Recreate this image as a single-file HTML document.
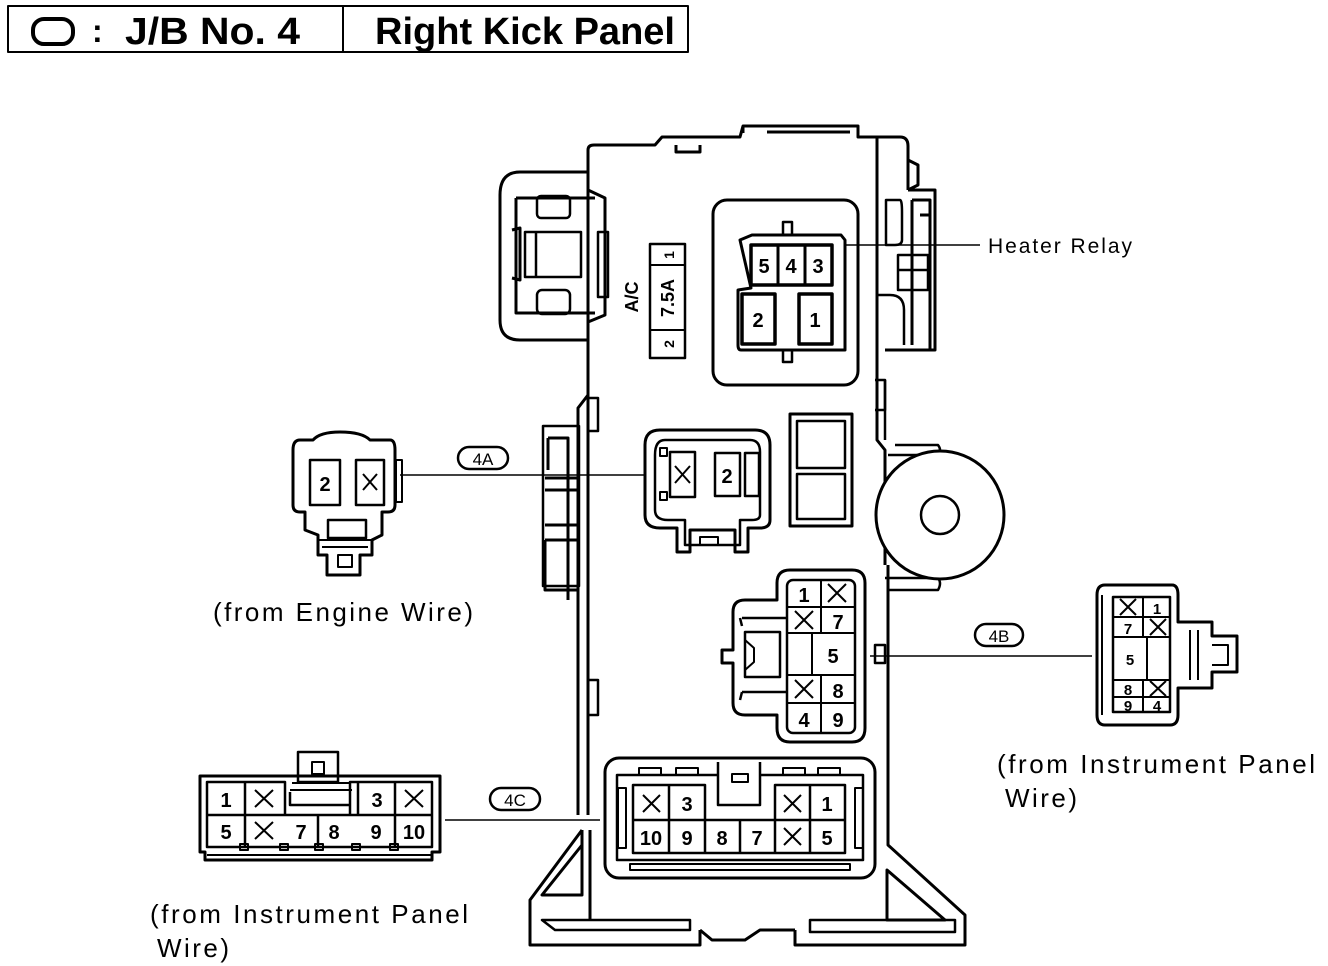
<!DOCTYPE html>
<html><head><meta charset="utf-8"><style>
html,body{margin:0;padding:0;background:#fff;}
svg{display:block;}
text{font-family:"Liberation Sans",sans-serif;fill:#000;}
</style></head><body>
<svg width="1328" height="966" viewBox="0 0 1328 966" xmlns="http://www.w3.org/2000/svg">
<g fill="none" stroke="#000" stroke-width="3" stroke-linejoin="round">
<rect x="8" y="6" width="680" height="46" stroke-width="2"/>
<line x1="343" y1="6" x2="343" y2="52" stroke-width="2"/>
<rect x="33" y="19" width="40" height="25" rx="11" stroke-width="4"/>

<path d="M588,395 L588,150 Q588,145 594,145 L655,145 L662,137 L740,137 L743,126 L858,126 L858,137 L900,137 Q908,137 908,146 L908,190"/>
<path d="M676,145 L676,152 L700,152 L700,145"/>
<path d="M743,126 L743,133 M858,126 L858,132 M767,132 L850,132"/>
<path d="M588,172 L520,172 Q500,172 500,195 L500,320 Q500,340 520,340 L588,340"/>
<path d="M588,190 L605,198 L605,315 L588,322"/>
<path d="M516,198 L595,198 M516,198 L516,313 L595,313"/>
<path d="M512,230 L520,228 L520,280 L512,278"/>
<rect x="537" y="196" width="33" height="22" rx="4" stroke-width="2.5"/>
<rect x="525" y="232" width="56" height="45" stroke-width="2.5"/>
<line x1="536" y1="232" x2="536" y2="277" stroke-width="2.5"/>
<rect x="537" y="290" width="33" height="24" rx="5" stroke-width="2.5"/>
<rect x="598" y="232" width="10" height="65" stroke-width="2.5"/>
<path d="M588,395 L578,408 L578,815"/>
<path d="M588,395 L588,815"/>
<rect x="588" y="398" width="10" height="33" stroke-width="2.5"/>
<rect x="543" y="426" width="36" height="160" stroke-width="2.5"/>
<path d="M548,438 L568,438 L568,600 M548,438 L548,470"/>
<path d="M545,478 L578,478 M545,490 L580,490 M545,525 L580,525 M545,540 L578,540 M545,540 L545,590 L578,590"/>
<rect x="588" y="680" width="10" height="35" stroke-width="2.5"/>
<path d="M582,830 L530,900 L530,945 L700,945 L700,930 M582,845 L542,895 L582,895 L582,830"/>
<path d="M542,920 L690,920 L690,930 L555,930 Z" stroke-width="2.5"/>
<path d="M590,830 L590,920"/>
<path d="M888,565 L888,845 L965,915 L965,945 L795,945 L795,930 M887,870 L945,920 L887,920 Z"/>
<path d="M810,920 L955,920 L955,932 L810,932 Z" stroke-width="2.5"/>
<path d="M700,930 L712,940 L745,940 L760,930 L795,930"/>
<path d="M877,137 L877,440 L885,450 L885,565"/>
<path d="M908,160 L918,165 L918,185 L908,190"/>
<path d="M908,190 L935,190 L935,350 L885,350"/>
<path d="M886,200 L900,200 Q902,200 902,212 L902,240 Q902,245 895,245 L886,245 Z" stroke-width="2.5"/>
<path d="M912,200 L930,200 L930,350 M912,200 L912,345 M920,215 L930,215"/>
<path d="M898,255 L928,255 L928,290 L898,290 Z M898,270 L928,270" stroke-width="2.5"/>
<path d="M876,295 L890,295 Q904,295 904,310 L904,345" stroke-width="2.5"/>
<path d="M875,380 L885,380 L885,410 L875,410" stroke-width="2.5"/>
<path d="M885,440 L885,380 M895,445 L938,445 Q942,450 938,455 L888,455" stroke-width="2.5"/>
<path d="M885,578 L938,578 Q942,583 938,590 L888,590" stroke-width="2.5"/>
<circle cx="940" cy="515" r="64" fill="#fff"/>
<circle cx="940" cy="515" r="19" stroke-width="2.5"/>
<rect x="875" y="645" width="10" height="18" stroke-width="2.5"/>

<rect x="713" y="200" width="145" height="185" rx="14"/>
<path d="M740,240 L752,235 L841,235 L845,240 L845,350 L741,350 Q738,350 738,345 L738,290 L751,288 Z"/>
<rect x="751" y="245" width="81" height="40" stroke-width="3.5"/>
<line x1="778" y1="245" x2="778" y2="285"/><line x1="805" y1="245" x2="805" y2="285"/>
<rect x="742" y="294" width="33" height="50" stroke-width="3.5"/>
<rect x="799" y="294" width="33" height="50" stroke-width="3.5"/>
<rect x="783" y="222" width="9" height="13" stroke-width="2.5"/>
<rect x="783" y="350" width="9" height="12" stroke-width="2.5"/>
<rect x="650" y="244" width="35" height="114" stroke-width="2.5"/>
<line x1="650" y1="265" x2="685" y2="265" stroke-width="2"/>
<line x1="650" y1="330" x2="685" y2="330" stroke-width="2"/>

<path d="M660,430 L755,430 Q770,430 770,445 L770,520 Q770,528 760,528 L748,528 L748,552 L735,552 L735,530 L690,530 L690,552 L677,552 L677,528 L660,528 Q645,528 645,515 L645,445 Q645,430 660,430 Z"/>
<path d="M665,440 L750,440 Q760,440 760,452 L760,515 Q760,520 752,520 L740,520 L740,545 L685,545 L685,520 L668,520 Q655,520 655,510 L655,455 Q655,440 665,440 Z" stroke-width="2.5"/>
<rect x="670" y="452" width="25" height="45" stroke-width="2.5"/>
<rect x="715" y="453" width="25" height="43" stroke-width="2.5"/>
<rect x="745" y="453" width="14" height="43" stroke-width="2.5"/>
<rect x="660" y="448" width="7" height="8" stroke-width="2"/>
<rect x="660" y="492" width="7" height="8" stroke-width="2"/>
<rect x="700" y="537" width="18" height="8" stroke-width="2"/>
<rect x="790" y="414" width="62" height="112"/>
<rect x="797" y="421" width="48" height="47" stroke-width="2.5"/>
<rect x="797" y="474" width="48" height="45" stroke-width="2.5"/>

<path d="M790,570 L852,570 Q865,570 865,583 L865,728 Q865,742 852,742 L790,742 Q777,742 777,728 L777,715 L745,715 Q733,715 733,703 L733,663 L722,663 L722,650 L733,650 L733,612 Q733,600 745,600 L777,600 L777,583 Q777,570 790,570 Z"/>
<path d="M742,618 L787,618 M742,626 L740,618 M742,692 L787,692 M742,692 L740,700 M745,632 L780,632 L780,677 L745,677 Z" stroke-width="2.5"/>
<path d="M745,640 L754,648 L754,662 L745,670" stroke-width="2"/>
<rect x="787" y="580" width="68" height="153" rx="6" stroke-width="2.5"/>
<path d="M787,607 L855,607 M787,633 L855,633 M787,675 L855,675 M787,703 L855,703 M821,580 L821,633 M812,633 L812,675 M821,675 L821,733" stroke-width="2"/>

<rect x="605" y="758" width="270" height="120" rx="14"/>
<path d="M718,775 L617,775 L617,860 L863,860 L863,775 L760,775" stroke-width="2.5"/>
<path d="M718,762 L718,805 L760,805 L760,762" stroke-width="2.5"/>
<rect x="732" y="774" width="16" height="8" stroke-width="2"/>
<rect x="639" y="768" width="22" height="7" stroke-width="2"/>
<rect x="676" y="768" width="22" height="7" stroke-width="2"/>
<rect x="783" y="768" width="22" height="7" stroke-width="2"/>
<rect x="818" y="768" width="22" height="7" stroke-width="2"/>
<rect x="618" y="788" width="8" height="60" stroke-width="2"/>
<rect x="855" y="788" width="8" height="60" stroke-width="2"/>
<rect x="630" y="864" width="220" height="6" stroke-width="2"/>
<path d="M633,820 L633,853 L845,853 L845,785 L775,785 L775,820 L705,820 L705,785 L633,785 L633,820 L845,820 M669,785 L669,853 M705,820 L705,853 M740,820 L740,853 M775,820 L775,853 M810,785 L810,853" stroke-width="2.5"/>

<g stroke-width="1.5">
<line x1="400" y1="475" x2="645" y2="475"/>
<line x1="845" y1="245" x2="980" y2="245"/>
<line x1="870" y1="656" x2="1092" y2="656"/>
<line x1="445" y1="820" x2="600" y2="820"/>
</g>
<rect x="458" y="447" width="50" height="22" rx="11" stroke-width="2.5"/>
<rect x="975" y="624" width="48" height="22" rx="11" stroke-width="2.5"/>
<rect x="490" y="788" width="50" height="22" rx="11" stroke-width="2.5"/>

<path d="M300,440 L313,440 Q320,432 340,432 Q362,432 370,440 L390,440 Q395,440 395,450 L395,505 Q395,512 388,512 L382,512 L382,535 L372,540 L372,555 L360,555 L360,575 L327,575 L327,555 L318,555 L318,535 L305,530 L305,512 L300,512 Q293,512 293,505 L293,450 Q293,440 300,440 Z"/>
<rect x="310" y="460" width="30" height="45" stroke-width="2.5"/>
<rect x="356" y="460" width="28" height="45" stroke-width="2.5"/>
<rect x="328" y="520" width="38" height="18" stroke-width="2.5"/>
<path d="M318,540 L372,540 M322,547 L368,547" stroke-width="2"/>
<rect x="338" y="555" width="14" height="12" stroke-width="2"/>
<rect x="396" y="460" width="6" height="42" stroke-width="2"/>

<path d="M200,776 L440,776 L440,852 L432,852 L432,860 L205,860 L205,852 L200,852 Z"/>
<rect x="298" y="752" width="40" height="30" stroke-width="2.5"/>
<rect x="312" y="762" width="12" height="12" stroke-width="2"/>
<path d="M292,783 L350,783 M290,790 L352,790" stroke-width="2"/>
<path d="M207,815 L207,847 L432,847 L432,782 L350,782 L350,815 L285,815 L285,782 L207,782 L207,815 L432,815 M245,782 L245,847 M318,815 L318,847 M395,782 L395,847 M358,782 L358,815 M290,792 L290,805 L350,805" stroke-width="2.5"/>
<g stroke-width="2"><rect x="240" y="844" width="8" height="6"/><rect x="280" y="844" width="8" height="6"/><rect x="315" y="844" width="8" height="6"/><rect x="352" y="844" width="8" height="6"/><rect x="390" y="844" width="8" height="6"/></g>
<line x1="207" y1="855" x2="432" y2="855" stroke-width="2"/>

<path d="M1105,585 L1172,585 Q1178,585 1178,595 L1178,622 L1212,622 L1212,636 L1237,636 L1237,672 L1212,672 L1212,688 L1178,688 L1178,715 Q1178,725 1170,725 L1105,725 Q1097,725 1097,715 L1097,595 Q1097,585 1105,585 Z"/>
<path d="M1102,595 L1102,715" stroke-width="2"/>
<rect x="1113" y="597" width="57" height="115" stroke-width="2.5"/>
<path d="M1113,617 L1170,617 M1113,637 L1170,637 M1113,680 L1170,680 M1113,697 L1170,697 M1143,597 L1143,637 M1147,637 L1147,680 M1143,680 L1143,712" stroke-width="2"/>
<path d="M1190,630 L1190,680 M1198,630 L1198,680 M1212,645 L1228,645 L1228,665 L1212,665" stroke-width="2"/>
</g>

<g stroke="#000" stroke-width="2" fill="none">
<path d="M675,466 L690,483 M690,466 L675,483"/>
<path d="M363,474 L377,490 M377,474 L363,490"/>
<path d="M828,584 L846,602 M846,584 L828,602"/>
<path d="M795,611 L813,629 M813,611 L795,629"/>
<path d="M795,680 L813,698 M813,680 L795,698"/>
<path d="M643,795 L660,812 M660,795 L643,812"/>
<path d="M784,795 L801,812 M801,795 L784,812"/>
<path d="M784,828 L801,845 M801,828 L784,845"/>
<path d="M255,790 L273,807 M273,790 L255,807"/>
<path d="M255,822 L273,839 M273,822 L255,839"/>
<path d="M405,790 L423,807 M423,790 L405,807"/>
<path d="M1120,599 L1136,615 M1136,599 L1120,615"/>
<path d="M1150,619 L1166,635 M1166,619 L1150,635"/>
<path d="M1150,681 L1166,696 M1166,681 L1150,696"/>
</g>

<text x="92" y="42" font-size="32" font-weight="bold">:</text>
<text x="125" y="44" font-size="38" font-weight="bold" textLength="175" lengthAdjust="spacingAndGlyphs">J/B No. 4</text>
<text x="375" y="44" font-size="38" font-weight="bold" textLength="300" lengthAdjust="spacingAndGlyphs">Right Kick Panel</text>

<g font-size="20" font-weight="bold" text-anchor="middle">
<text x="764" y="273">5</text><text x="791" y="273">4</text><text x="818" y="273">3</text>
<text x="758" y="327">2</text><text x="815" y="327">1</text>
<text x="727" y="483">2</text><text x="325" y="491">2</text>
<text x="804" y="602">1</text><text x="838" y="629">7</text><text x="833" y="663">5</text><text x="838" y="698">8</text>
<text x="804" y="727">4</text><text x="838" y="727">9</text>
<text x="687" y="811">3</text><text x="827" y="811">1</text>
<text x="651" y="845">10</text><text x="687" y="845">9</text><text x="722" y="845">8</text><text x="757" y="845">7</text><text x="827" y="845">5</text>
<text x="226" y="807">1</text><text x="377" y="807">3</text>
<text x="226" y="839">5</text><text x="301" y="839">7</text><text x="334" y="839">8</text><text x="376" y="839">9</text><text x="414" y="839">10</text>
</g>
<g font-size="15" font-weight="bold" text-anchor="middle">
<text x="1157" y="614">1</text><text x="1128" y="634">7</text><text x="1130" y="665">5</text>
<text x="1128" y="695">8</text><text x="1128" y="711">9</text><text x="1157" y="711">4</text>
</g>
<g font-size="18" font-weight="bold" text-anchor="middle">
<text transform="translate(674,255) rotate(-90)" font-size="14">1</text>
<text transform="translate(674,298) rotate(-90)">7.5A</text>
<text transform="translate(674,344) rotate(-90)" font-size="14">2</text>
<text transform="translate(638,297) rotate(-90)">A/C</text>
</g>
<g font-size="17" text-anchor="middle">
<text x="483" y="465">4A</text><text x="999" y="642">4B</text><text x="515" y="806">4C</text>
</g>
<text x="988" y="253" font-size="21" textLength="144" lengthAdjust="spacing">Heater Relay</text>
<g font-size="26">
<text x="213" y="621" textLength="260" lengthAdjust="spacing">(from Engine Wire)</text>
<text x="997" y="773" textLength="318" lengthAdjust="spacing">(from Instrument Panel</text>
<text x="1005" y="807" textLength="72" lengthAdjust="spacing">Wire)</text>
<text x="150" y="923" textLength="318" lengthAdjust="spacing">(from Instrument Panel</text>
<text x="157" y="957" textLength="72" lengthAdjust="spacing">Wire)</text>
</g>
</svg>
</body></html>
